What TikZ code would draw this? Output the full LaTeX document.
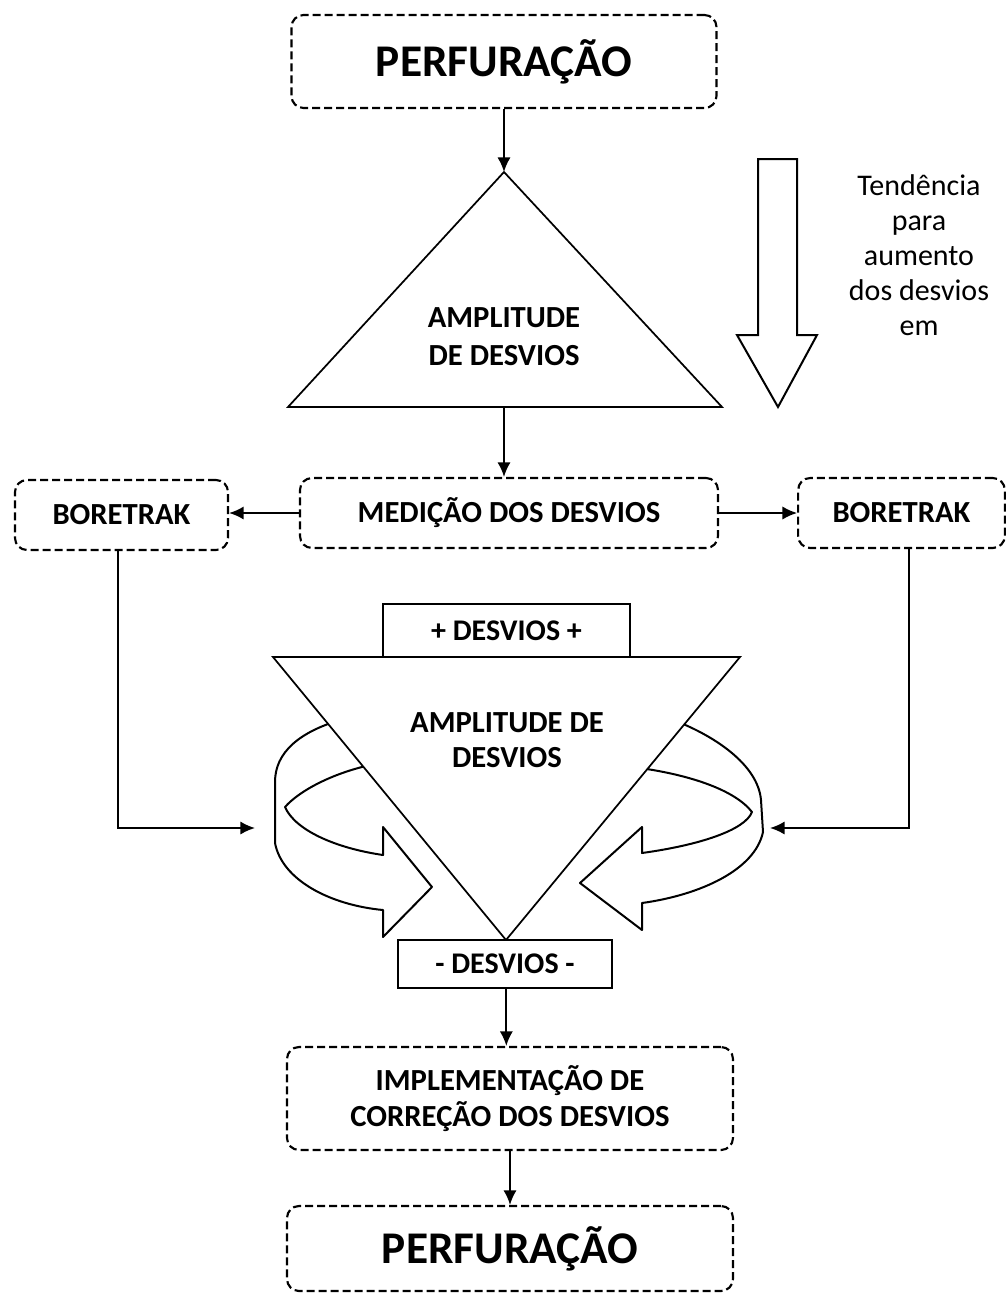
\documentclass[tikz,border=0pt]{standalone}
\usepackage{fontspec}
\setmainfont{Carlito}
\usetikzlibrary{arrows.meta}
\tikzset{>={Latex[length=11pt,width=10pt]},
    dashbox/.style={draw, line width=1.6pt, dash pattern=on 6pt off 3pt,
      rounded corners=9pt, inner sep=0pt, align=center,
      font=\bfseries\fontsize{23}{27}\selectfont},
    bigtext/.style={font=\bfseries\fontsize{34}{40}\selectfont},
    plainbox/.style={draw, line width=1.3pt, fill=white, inner sep=0pt,
      font=\bfseries\fontsize{22.5}{26}\selectfont},
    outline/.style={draw, line width=1.3pt, fill=white, line join=miter},
    ribbon/.style={draw, line width=1.5pt, fill=white, line join=round},
    link/.style={->, line width=1.5pt}}

\begin{document}
\begin{tikzpicture}[x=0.75pt, y=-0.75pt]
  \useasboundingbox (0,0) rectangle (1007,1293);

  % boxes
  \node[dashbox, bigtext, minimum width=318.75pt, minimum height=69.75pt] (perf1) at (504,61.5) {PERFURAÇÃO};
  \node[dashbox, minimum width=313.5pt, minimum height=52.5pt] (medicao) at (509,513) {MEDIÇÃO DOS DESVIOS};
  \node[dashbox, minimum width=159.75pt, minimum height=52.5pt] (boreL) at (121.5,515) {BORETRAK};
  \node[dashbox, minimum width=155pt, minimum height=52.5pt] (boreR) at (901.5,513) {BORETRAK};
  \node[dashbox, minimum width=334.5pt, minimum height=77.25pt] (impl) at (510,1098.5) {IMPLEMENTAÇÃO DE\\CORREÇÃO DOS DESVIOS};
  \node[dashbox, bigtext, minimum width=334.5pt, minimum height=63.75pt] (perf2) at (510,1248.5) {PERFURAÇÃO};

  % upper triangle
  \coordinate (t1top) at (504,172);
  \coordinate (t1bot) at (504,407);
  \draw[outline] (t1top) -- (722,407) -- (288,407) -- cycle;
  \node[align=center, font=\bfseries\fontsize{23}{28.5}\selectfont] (amp1) at (504,337) {AMPLITUDE\\DE DESVIOS};

  % tendency arrow
  \draw[line width=1.5pt, line join=miter] (758,159) -- (797,159) -- (797,335) -- (817,335) -- (778,407)
    -- (737,335) -- (758,335) -- cycle;
  \node[align=center, font=\fontsize{22.5}{26.25}\selectfont] (tend) at (919,255) {Tendência\\para\\aumento\\dos desvios\\em};

  % turning ribbons around the lower triangle
  \draw[ribbon] (340,720) .. controls (300,732) and (275,752) .. (275,782) -- (275,843)
    .. controls (282,880) and (330,905) .. (383,910) -- (383,937) -- (432,887) -- (383,827) -- (383,855)
    .. controls (335,848) and (295,830) .. (285,807)
    .. controls (300,790) and (335,772) .. (375,764) -- cycle;
  \draw[ribbon] (668,718) .. controls (715,735) and (758,765) .. (761,800) -- (763,832)
    .. controls (755,870) and (700,895) .. (642,903) -- (642,930) -- (580,883) -- (642,827) -- (642,853)
    .. controls (700,845) and (745,830) .. (752,812)
    .. controls (735,790) and (690,775) .. (640,768) -- cycle;

  % lower triangle
  \draw[outline] (273,657) -- (740,657) -- (506,940) -- cycle;
  \node[align=center, font=\bfseries\fontsize{23}{26.25}\selectfont] (amp2) at (507,740) {AMPLITUDE DE\\DESVIOS};
  \node[plainbox, minimum width=185.25pt, minimum height=39.75pt] (mais) at (506.5,630.5) {+ DESVIOS +};
  \node[plainbox, minimum width=160.5pt, minimum height=36pt] (menos) at (505,964) {- DESVIOS -};

  \coordinate (inL) at (255,828);
  \coordinate (inR) at (770,828);

  % connectors
  \draw[link] (perf1) -- (t1top);
  \draw[link] (t1bot) -- (t1bot |- medicao.north);
  \draw[link] (medicao.west) -- (medicao.west -| boreL.east);
  \draw[link] (medicao.east) -- (medicao.east -| boreR.west);
  \draw[link] ([xshift=-2.5pt]boreL.south) |- (inL);
  \draw[link] ([xshift=5.5pt]boreR.south) |- (inR);
  \draw[link] ([xshift=1pt]menos.south) -- ([xshift=1pt]menos.south |- impl.north);
  \draw[link] (impl) -- (perf2);
\end{tikzpicture}
\end{document}
